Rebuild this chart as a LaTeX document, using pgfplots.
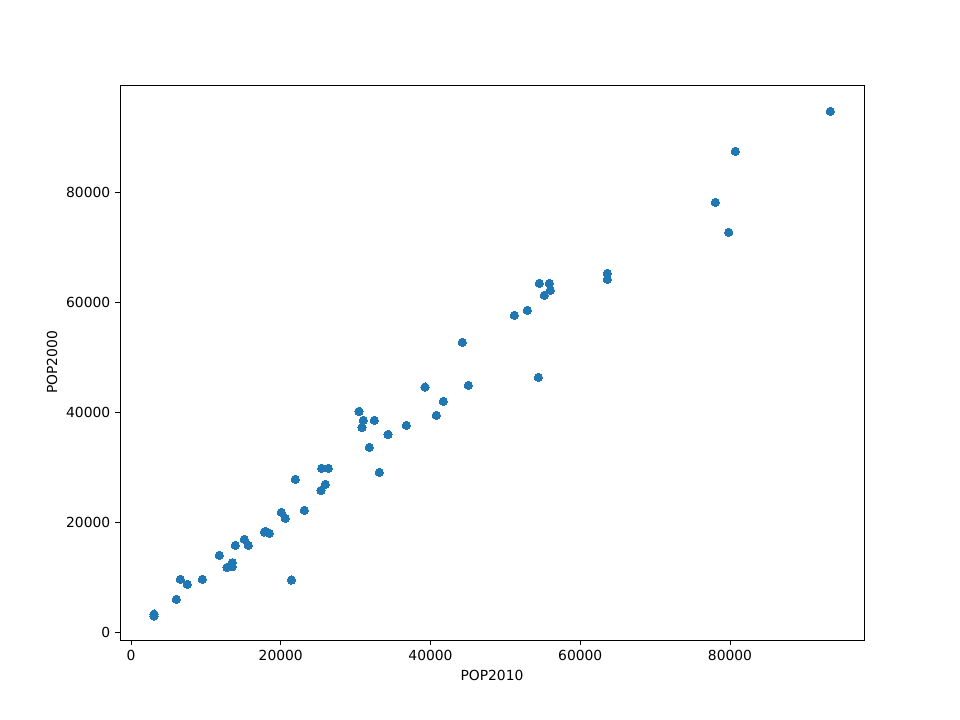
\documentclass[border=0pt]{standalone}
\usepackage{fontspec}
\setmainfont{DejaVu Sans}
\usepackage{pgfplots}
\pgfplotsset{compat=1.18}
\definecolor{mplblue}{HTML}{1F77B4}
\begin{document}
\fontsize{10.4}{12.5}\selectfont
\begin{tikzpicture}
\useasboundingbox (-90pt,-59.25pt) rectangle (630pt,480pt);
\begin{axis}[at={(0,0)},anchor=south west, scale only axis,
  width=558pt, height=416.25pt,
  xmin=-1469, xmax=97896, ymin=-1455, ymax=99455,
  xtick={0,20000,40000,60000,80000},
  ytick={0,20000,40000,60000,80000},
  scaled ticks=false,
  /pgf/number format/1000 sep={},
  /pgf/number format/assume math mode=true,
  tick align=outside, tick pos=left, major tick length=3.65pt,
  axis line style={line width=0.6pt},
  every tick/.style={line width=0.6pt, black},
  tick label style={font=\fontsize{10.4}{12.5}\selectfont},
  label style={font=\fontsize{10.4}{12.5}\selectfont},
  xlabel=POP2010, ylabel=POP2000,
  xlabel style={at={(axis description cs:0.5,-0.063)}, anchor=center},
  ylabel style={at={(axis description cs:-0.0914,0.5)}, anchor=center},
]
\addplot[only marks, mark=*, mark size=3.1pt, mark options={fill=mplblue, draw=mplblue, line width=0pt}] table {
x y
3072 3273
3072 2909
6050 5945
6585 9582
7519 8673
9523 9582
11793 13945
12822 11764
13530 12600
13530 11873
13930 15764
15132 16855
15667 15764
17804 18182
17937 18309
18471 17945
20074 21764
20608 20673
21410 9455
21944 27764
23146 22127
25376 25764
25951 26855
25470 29764
26352 29764
30452 40128
31026 38491
32495 38491
30852 37219
31827 33582
33163 29037
34325 35946
36769 37582
39267 44546
40776 39400
41711 41946
44249 52673
45050 44855
51194 57583
52930 58491
54533 63400
55869 63400
56003 62128
55201 61219
54400 46310
63615 65219
63615 64128
78039 78128
79829 72673
80710 87401
93398 94674
};
\end{axis}
\end{tikzpicture}
\end{document}
